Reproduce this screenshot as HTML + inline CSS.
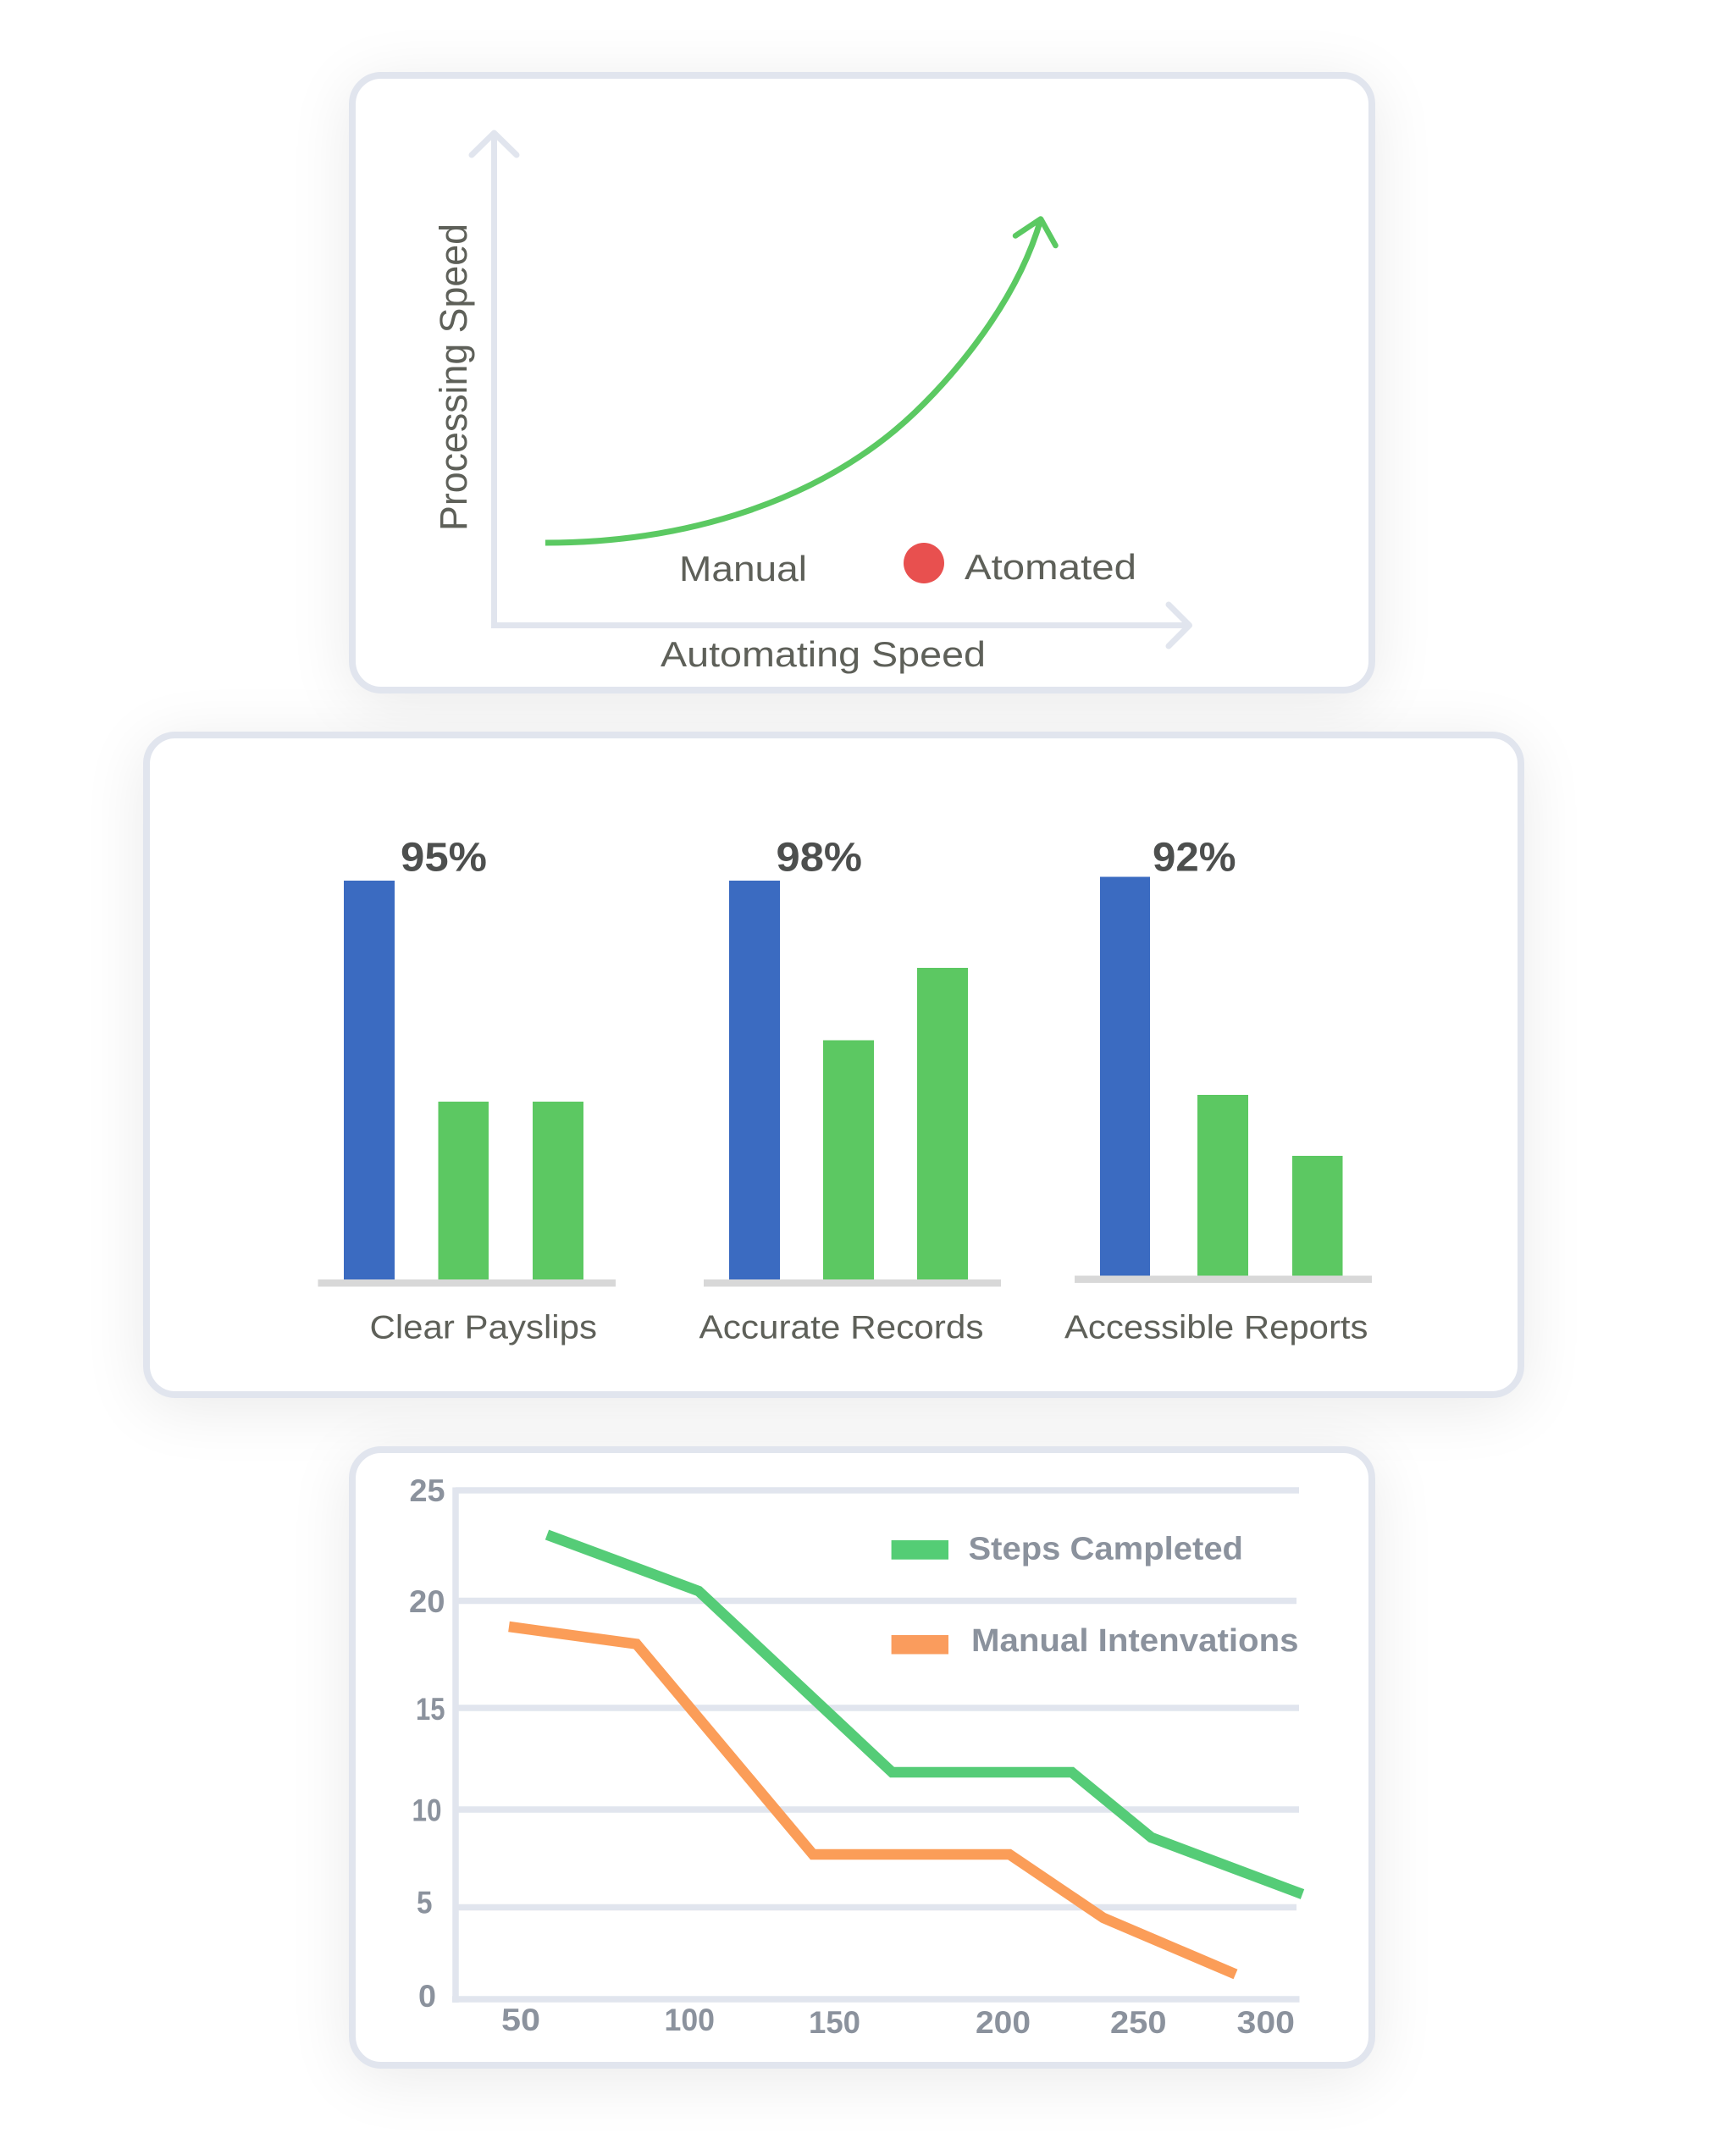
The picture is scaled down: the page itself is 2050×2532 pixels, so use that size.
<!DOCTYPE html>
<html>
<head>
<meta charset="utf-8">
<style>
  html, body { margin:0; padding:0; }
  body { width:2050px; height:2532px; background:#ffffff; position:relative; overflow:hidden; font-family:"Liberation Sans", sans-serif; }
  .sh { position:absolute; border-radius:38px; background:#fff; box-shadow: 0 12px 75px rgba(0,0,0,0.085); }
  .card { position:absolute; box-sizing:border-box; border:8px solid #e1e5ee; border-radius:38px; background:#fff; }
  svg { position:absolute; left:0; top:0; }
</style>
</head>
<body>
  <!-- shadow layer -->
  <div class="sh" style="left:412px;top:85px;width:1212px;height:734px;"></div>
  <div class="sh" style="left:169px;top:864px;width:1631px;height:787px;"></div>
  <div class="sh" style="left:412px;top:1708px;width:1212px;height:735px;"></div>
  <!-- cards -->
  <div class="card" style="left:412px;top:85px;width:1212px;height:734px;"></div>
  <div class="card" style="left:169px;top:864px;width:1631px;height:787px;"></div>
  <div class="card" style="left:412px;top:1708px;width:1212px;height:735px;"></div>

  <svg width="2050" height="2532" viewBox="0 0 2050 2532" xmlns="http://www.w3.org/2000/svg">
    <!-- ============ CHART 1 ============ -->
    <g fill="none" stroke="#e1e5ee" stroke-width="7">
      <path d="M583.5,157 V738.5 H1404"/>
      <path d="M557,183 L583.5,157 L610,183" stroke-linecap="round" stroke-linejoin="round"/>
      <path d="M1380,714 L1404.5,738.5 L1380,763" stroke-linecap="round" stroke-linejoin="round"/>
    </g>
    <path fill="none" stroke="#5bc962" stroke-width="7" stroke-linejoin="round"
      d="M644,641 C824,641 964.6,584.8 1057,508 C1110.9,463.2 1198.8,364.8 1229,259"/>
    <path d="M1199,278.5 L1229,258.5 L1246.5,290" fill="none" stroke="#5bc962" stroke-width="6.5" stroke-linecap="round" stroke-linejoin="round"/>
    <circle cx="1091" cy="665" r="24" fill="#e8504f"/>

    <g font-family="Liberation Sans, sans-serif" fill="#5e6059" font-size="42">
      <text transform="translate(551,627) rotate(-90)" font-size="45" textLength="363" lengthAdjust="spacingAndGlyphs">Processing Speed</text>
      <text x="802" y="686" textLength="151" lengthAdjust="spacingAndGlyphs">Manual</text>
      <text x="1139" y="684" textLength="203" lengthAdjust="spacingAndGlyphs">Atomated</text>
      <text x="780" y="787" textLength="384" lengthAdjust="spacingAndGlyphs">Automating Speed</text>
    </g>

    <!-- ============ CHART 2 ============ -->
    <g fill="#d8d8d8">
      <rect x="375.5" y="1511" width="351.5" height="8.5"/>
      <rect x="831" y="1511" width="351" height="8.5"/>
      <rect x="1269" y="1506.5" width="351" height="8.5"/>
    </g>
    <g fill="#3b6bc1">
      <rect x="406" y="1040" width="60" height="471"/>
      <rect x="861" y="1040" width="60" height="471"/>
      <rect x="1299" y="1035.5" width="59" height="471"/>
    </g>
    <g fill="#5cc862">
      <rect x="517.5" y="1301" width="59.5" height="210"/>
      <rect x="629" y="1301" width="60" height="210"/>
      <rect x="972" y="1228.5" width="60" height="282.5"/>
      <rect x="1083" y="1143" width="60" height="368"/>
      <rect x="1414" y="1293" width="60" height="213.5"/>
      <rect x="1526" y="1365" width="59.5" height="141.5"/>
    </g>
    <g font-family="Liberation Sans, sans-serif" font-weight="bold" fill="#4d4f4e" font-size="48">
      <text x="473" y="1028.5" textLength="102" lengthAdjust="spacingAndGlyphs">95%</text>
      <text x="916.5" y="1028.5" textLength="101.5" lengthAdjust="spacingAndGlyphs">98%</text>
      <text x="1361" y="1028.5" textLength="98.5" lengthAdjust="spacingAndGlyphs">92%</text>
    </g>
    <g font-family="Liberation Sans, sans-serif" fill="#5e6059" font-size="39">
      <text x="436.5" y="1580.5" textLength="268.5" lengthAdjust="spacingAndGlyphs">Clear Payslips</text>
      <text x="825.5" y="1580.5" textLength="336" lengthAdjust="spacingAndGlyphs">Accurate Records</text>
      <text x="1257" y="1580.5" textLength="358.5" lengthAdjust="spacingAndGlyphs">Accessible Reports</text>
    </g>

    <!-- ============ CHART 3 ============ -->
    <g stroke="#e1e5ee" stroke-width="7.5" fill="none">
      <line x1="538" y1="1756.5" x2="538" y2="2365"/>
      <line x1="538" y1="1760" x2="1534" y2="1760"/>
      <line x1="538" y1="1890.5" x2="1531" y2="1890.5"/>
      <line x1="538" y1="2017" x2="1534" y2="2017"/>
      <line x1="538" y1="2137" x2="1534" y2="2137"/>
      <line x1="538" y1="2252.5" x2="1531" y2="2252.5"/>
      <line x1="534" y1="2361" x2="1534.5" y2="2361"/>
    </g>
    <polyline fill="none" stroke="#55cc77" stroke-width="12.5" stroke-linejoin="miter"
      points="646,1812.5 825,1879 1053.5,2093 1265.7,2093 1359.6,2170 1538,2237"/>
    <polyline fill="none" stroke="#fb9d58" stroke-width="12.5" stroke-linejoin="miter"
      points="601,1921 751.5,1941.5 960,2190 1192,2190 1303,2265 1459,2331.5"/>

    <rect x="1052.6" y="1819" width="67.4" height="22.7" fill="#54cd75"/>
    <rect x="1052.6" y="1931" width="67.4" height="22.5" fill="#fa9c5d"/>

    <g font-family="Liberation Sans, sans-serif" font-weight="bold" fill="#8b929d">
      <text x="1143.5" y="1841.5" font-size="38" textLength="324.5" lengthAdjust="spacingAndGlyphs">Steps Campleted</text>
      <text x="1147" y="1950" font-size="38" textLength="386.5" lengthAdjust="spacingAndGlyphs">Manual Intenvations</text>

      <g font-size="37">
        <text x="483.5" y="1773" textLength="42" lengthAdjust="spacingAndGlyphs">25</text>
        <text x="483" y="1904" textLength="42.5" lengthAdjust="spacingAndGlyphs">20</text>
        <text x="491" y="2031" textLength="34.5" lengthAdjust="spacingAndGlyphs">15</text>
        <text x="486.5" y="2150.5" textLength="35" lengthAdjust="spacingAndGlyphs">10</text>
        <text x="492" y="2259.5" textLength="18.5" lengthAdjust="spacingAndGlyphs">5</text>
        <text x="494" y="2370" textLength="21" lengthAdjust="spacingAndGlyphs">0</text>

        <text x="592" y="2398" textLength="46" lengthAdjust="spacingAndGlyphs">50</text>
        <text x="784.5" y="2398" textLength="59.5" lengthAdjust="spacingAndGlyphs">100</text>
        <text x="955" y="2401" textLength="61" lengthAdjust="spacingAndGlyphs">150</text>
        <text x="1152" y="2401" textLength="65" lengthAdjust="spacingAndGlyphs">200</text>
        <text x="1311" y="2401" textLength="66.5" lengthAdjust="spacingAndGlyphs">250</text>
        <text x="1460.5" y="2401" textLength="68.5" lengthAdjust="spacingAndGlyphs">300</text>
      </g>
    </g>
  </svg>
</body>
</html>
